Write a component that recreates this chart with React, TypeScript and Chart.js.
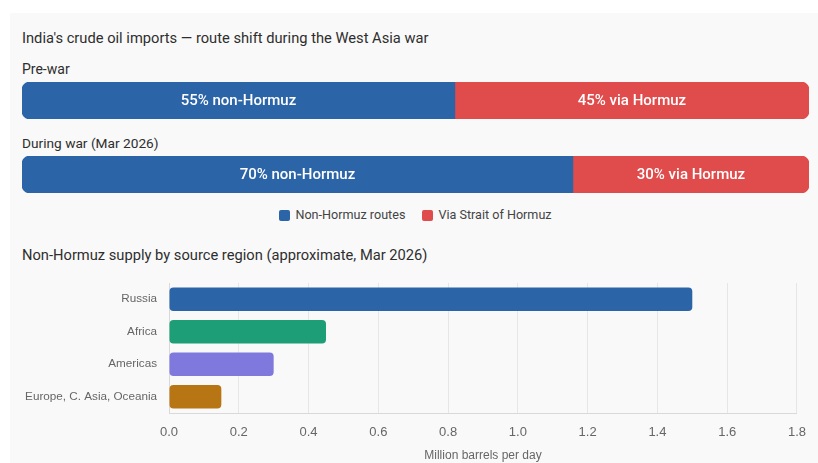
import React, { useEffect, useRef } from 'react';
import Chart from 'chart.js/auto';

// ---------- data ----------
const titleText = "India's crude oil imports — route shift during the West Asia war";
const periods = ['Pre-war', 'During war (Mar 2026)'];
const routeNames = ['Non-Hormuz routes', 'Via Strait of Hormuz'];
const routeShort = ['non-Hormuz', 'via Hormuz'];
const routeColors = ['#2c64a8', '#e04b4b'];
const preWarShares = [55, 45];
const duringWarShares = [70, 30];

const regionTitle = 'Non-Hormuz supply by source region (approximate, Mar 2026)';
const regions = ['Russia', 'Africa', 'Americas', 'Europe, C. Asia, Oceania'];
const regionVolumes = [1.5, 0.45, 0.3, 0.15];
const regionColors = ['#2c64a8', '#1d9e77', '#7f78dd', '#b87514'];
const volumeMin = 0;
const volumeMax = 1.8;
const volumeStep = 0.2;
const axisTitle = 'Million barrels per day';

const UI_FONT = "Roboto, 'Helvetica Neue', Arial, sans-serif";
const CHART_FONT = "'Helvetica Neue', Helvetica, Arial, sans-serif";

const shareLabelPlugin = {
  id: 'shareLabels',
  afterDatasetsDraw(chart: any) {
    const ctx = chart.ctx;
    ctx.save();
    ctx.fillStyle = '#ffffff';
    ctx.font = `500 15px ${UI_FONT}`;
    ctx.textAlign = 'center';
    ctx.textBaseline = 'middle';
    chart.data.datasets.forEach((ds: any, i: number) => {
      const el = chart.getDatasetMeta(i).data[0];
      if (!el) return;
      const { x, base, y } = el.getProps(['x', 'base', 'y'], true);
      ctx.fillText(`${ds.data[0]}% ${routeShort[i]}`, (x + base) / 2, y + 1);
    });
    ctx.restore();
  },
};

function ShareBar({ shares, width, height }: { shares: number[]; width: number; height: number }) {
  const ref = useRef<HTMLCanvasElement>(null);
  useEffect(() => {
    const chart = new Chart(ref.current as HTMLCanvasElement, {
      type: 'bar',
      data: {
        labels: [''],
        datasets: shares.map((v, i) => ({
          label: routeNames[i],
          data: [v],
          backgroundColor: routeColors[i],
          borderWidth: 0,
          borderSkipped: false,
          borderRadius:
            i === 0
              ? { topLeft: 8, bottomLeft: 8, topRight: 0, bottomRight: 0 }
              : { topLeft: 0, bottomLeft: 0, topRight: 8, bottomRight: 8 },
          barPercentage: 1,
          categoryPercentage: 1,
        })),
      },
      options: {
        indexAxis: 'y',
        responsive: false,
        animation: false,
        layout: { padding: 0 },
        plugins: { legend: { display: false }, tooltip: { enabled: false } },
        scales: {
          x: { stacked: true, min: 0, max: 100, display: false },
          y: { stacked: true, display: false },
        },
      } as any,
      plugins: [shareLabelPlugin],
    });
    return () => chart.destroy();
  }, []);
  return <canvas ref={ref} width={width} height={height} style={{ display: 'block' }} />;
}

function RegionChart({ width, height }: { width: number; height: number }) {
  const ref = useRef<HTMLCanvasElement>(null);
  useEffect(() => {
    const chart = new Chart(ref.current as HTMLCanvasElement, {
      type: 'bar',
      data: {
        labels: regions,
        datasets: [
          {
            label: axisTitle,
            data: regionVolumes,
            backgroundColor: regionColors,
            borderWidth: 0,
            borderRadius: 4,
            borderSkipped: false,
          },
        ],
      },
      options: {
        indexAxis: 'y',
        responsive: false,
        animation: false,
        font: { family: CHART_FONT },
        layout: { padding: { top: 0, right: 21, bottom: 0, left: 0 } },
        plugins: { legend: { display: false }, tooltip: { enabled: false } },
        scales: {
          x: {
            min: volumeMin,
            max: volumeMax,
            ticks: {
              stepSize: volumeStep,
              callback: (v: any) => Number(v).toFixed(1),
              color: '#666',
              font: { family: CHART_FONT, size: 13 },
              padding: 12,
            },
            grid: { color: '#e6e6e6', drawTicks: false },
            border: { color: '#d9d9d9' },
            title: {
              display: true,
              text: axisTitle,
              color: '#666',
              font: { family: CHART_FONT, size: 12 },
              padding: { top: 4, bottom: 0 },
            },
            afterFit: (s: any) => {
              s.height = 50;
            },
          },
          y: {
            grid: { display: false, drawTicks: false },
            border: { color: '#d9d9d9' },
            ticks: { color: '#666', font: { family: CHART_FONT, size: 11.7 }, padding: 12 },
            afterFit: (s: any) => {
              s.width = 159;
            },
          },
        },
      } as any,
    });
    return () => chart.destroy();
  }, []);
  return <canvas ref={ref} width={width} height={height} style={{ display: 'block' }} />;
}

const abs = (left: number, top: number, extra: React.CSSProperties = {}): React.CSSProperties => ({
  position: 'absolute',
  left,
  top,
  ...extra,
});

export default function App() {
  useEffect(() => {
    document.body.style.margin = '0';
  }, []);
  const textStyle = (size: number): React.CSSProperties => ({
    fontFamily: UI_FONT,
    fontSize: size,
    lineHeight: '20px',
    color: '#2e2e2e',
    whiteSpace: 'nowrap',
  });
  return (
    <div style={{ position: 'relative', width: 818, height: 463, overflow: 'hidden', background: '#fff' }}>
      <div style={abs(10, 13, { width: 808, height: 450, background: '#f9f9f9' })} />
      <div style={abs(22, 28, textStyle(14.7))}>{titleText}</div>
      <div style={abs(22, 59, textStyle(14))}>{periods[0]}</div>
      <div style={abs(22, 82)}>
        <ShareBar shares={preWarShares} width={787} height={37} />
      </div>
      <div style={abs(22, 133, textStyle(13.7))}>{periods[1]}</div>
      <div style={abs(22, 156)}>
        <ShareBar shares={duringWarShares} width={787} height={37} />
      </div>
      <div
        style={abs(22, 205, {
          width: 787,
          height: 20,
          display: 'flex',
          justifyContent: 'center',
          alignItems: 'center',
          gap: 17,
        })}
      >
        {routeNames.map((n, i) => (
          <div key={n} style={{ display: 'flex', alignItems: 'center', gap: 5 }}>
            <span
              style={{ width: 11, height: 11, borderRadius: 2, background: routeColors[i], display: 'inline-block' }}
            />
            <span style={{ ...textStyle(12.6), color: '#444' }}>{n}</span>
          </div>
        ))}
      </div>
      <div style={abs(22, 245, textStyle(14.7))}>{regionTitle}</div>
      <div style={abs(10, 264)}>
        <RegionChart width={808} height={199} />
      </div>
    </div>
  );
}
